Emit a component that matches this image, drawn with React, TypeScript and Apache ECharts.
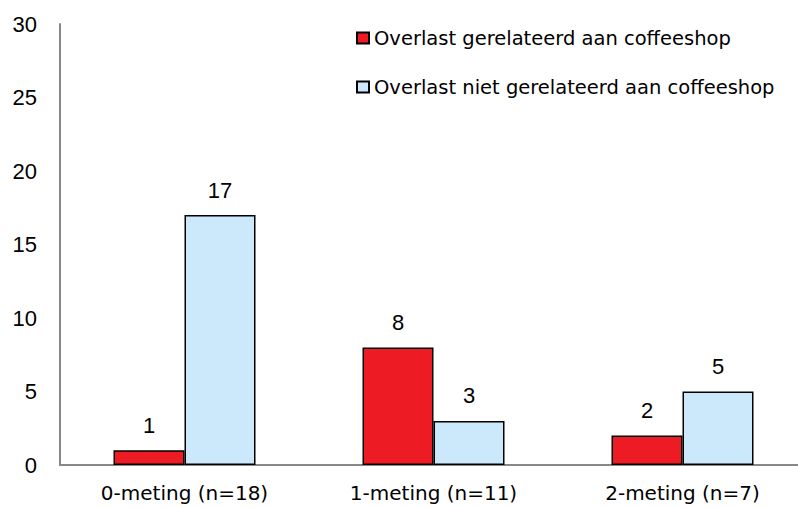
import React, { useEffect, useRef } from "react";
import * as echarts from "echarts";

const categories = ["0-meting (n=18)", "1-meting (n=11)", "2-meting (n=7)"];
const seriesNames = [
  "Overlast gerelateerd aan coffeeshop",
  "Overlast niet gerelateerd aan coffeeshop",
];
const related = [1, 8, 2];
const notRelated = [17, 3, 5];
const yTicks = { min: 0, max: 30, interval: 5 };

const FONT = "DejaVu Sans";
const NUM_FONT = "Liberation Sans";

export default function App() {
  const ref = useRef<HTMLDivElement>(null);
  useEffect(() => {
    if (!ref.current) return;
    const chart = echarts.init(ref.current, undefined, { renderer: "svg" });
    const labelStyle = {
      show: true,
      position: "top" as const,
      distance: 14,
      color: "#000",
      fontSize: 22,
      fontFamily: NUM_FONT,
    };
    chart.setOption({
      animation: false,
      backgroundColor: "#fff",
      textStyle: { fontFamily: FONT },
      grid: { left: 60, right: 0, top: 24, bottom: 42, containLabel: false },
      legend: {
        orient: "vertical",
        left: 356,
        top: 28,
        itemWidth: 12,
        itemHeight: 11,
        itemGap: 29,
        padding: 0,
        icon: "rect",
        textStyle: { fontSize: 19.5, color: "#000", fontFamily: FONT },
        data: seriesNames,
      },
      xAxis: {
        type: "category",
        data: categories,
        axisLine: { lineStyle: { color: "#888", width: 2 } },
        axisTick: { show: false },
        axisLabel: { color: "#000", fontSize: 20, fontFamily: FONT, margin: 18 },
      },
      yAxis: {
        type: "value",
        min: yTicks.min,
        max: yTicks.max,
        interval: yTicks.interval,
        axisLine: { show: true, lineStyle: { color: "#888", width: 2 } },
        axisTick: { show: false },
        splitLine: { show: false },
        axisLabel: { color: "#000", fontSize: 22, fontFamily: NUM_FONT, margin: 23 },
      },
      series: [
        {
          name: seriesNames[0],
          type: "bar",
          data: related,
          barWidth: 71,
          barGap: "0%",
          itemStyle: { color: "#ED1C24", borderColor: "#000", borderWidth: 1.5 },
          label: labelStyle,
        },
        {
          name: seriesNames[1],
          type: "bar",
          data: notRelated,
          barWidth: 71,
          barGap: "0%",
          itemStyle: { color: "#CCE9FB", borderColor: "#000", borderWidth: 1.5 },
          label: labelStyle,
        },
      ],
    });
    return () => chart.dispose();
  }, []);
  return (
    <div
      style={{
        position: "fixed",
        left: 0,
        top: 0,
        width: 798,
        height: 507,
        overflow: "hidden",
        background: "#fff",
      }}
    >
      <div ref={ref} style={{ width: 807, height: 507 }} />
    </div>
  );
}
